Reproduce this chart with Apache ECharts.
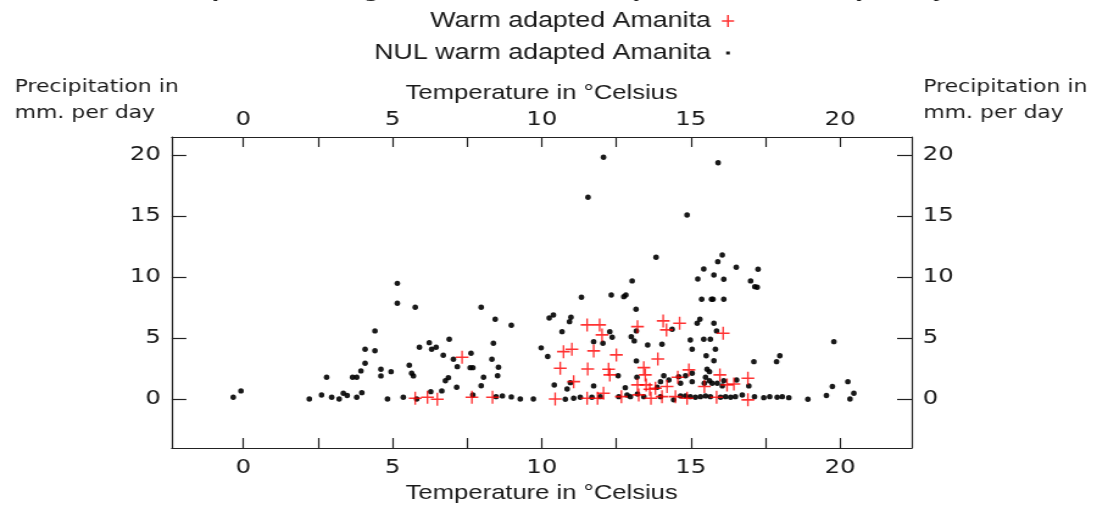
<!DOCTYPE html>
<html>
<head>
<meta charset="utf-8">
<script src="https://cdn.jsdelivr.net/npm/echarts@6/dist/echarts.min.js"></script>
<style>
html,body{margin:0;padding:0;background:#ffffff;overflow:hidden;}
#wrap{width:1097px;height:505px;overflow:hidden;}
#chart{width:900px;height:505px;transform:scaleX(1.218889);transform-origin:0 0;}
</style>
</head>
<body>
<div id="wrap"><div id="chart"></div></div>
<script>
// ---------- data ----------
const titleText = 'Temperature ranges of Amanita in comparison to rainfall per day';
const seriesNames = ['Warm adapted Amanita', 'NUL warm adapted Amanita'];
const xAxisName = 'Temperature in \u00B0Celsius';
const yAxisName = 'Precipitation in\nmm. per day';
const xRange = [-2.4, 22.4];
const yRange = [-4, 21.5];
const xTickValues = [0, 2.5, 5, 7.5, 10, 12.5, 15, 17.5, 20];
const xLabelValues = [0, 5, 10, 15, 20];
const yTickValues = [0, 5, 10, 15, 20];

// Warm adapted Amanita: [temperature, precipitation]
const warmPoints = [
  [7.33,3.44],[5.76,0.08],[6.17,0.16],[6.50,0.00],[7.66,0.16],[8.35,0.16],
  [11.52,6.09],[11.94,6.09],[12.02,5.27],[13.21,5.95],[14.07,6.42],[14.18,5.68],
  [14.62,6.23],[16.08,5.41],[11.01,4.10],[10.73,3.90],[11.74,3.96],[12.50,3.63],
  [13.89,3.30],[11.54,2.48],[12.24,2.46],[12.28,1.99],[13.42,2.59],[13.47,1.99],
  [11.07,1.44],[13.21,1.17],[13.50,1.17],[13.62,0.82],[13.81,0.90],[14.20,1.04],
  [14.56,1.80],[14.93,2.40],[15.97,1.99],[16.21,1.17],[16.44,1.25],[16.91,1.72],
  [15.45,1.04],[13.25,0.35],[13.66,0.08],[14.03,0.21],[14.48,0.21],[14.87,0.08],
  [15.86,0.16],[16.91,-0.05],[11.52,0.08],[11.87,0.08],[12.67,0.21],[12.07,0.49],
  [10.62,2.54],[10.45,0.02]
];

// NUL warm adapted Amanita: [temperature, precipitation]
const nulPoints = [
  [-0.34,0.16],[-0.08,0.68],[2.21,0.02],[2.62,0.35],[2.96,0.16],[3.21,0.02],
  [3.35,0.49],[3.48,0.30],[3.80,0.16],[3.97,0.54],[2.79,1.80],[3.66,1.80],
  [3.80,1.80],[3.94,2.32],[4.08,2.95],[4.08,4.10],[4.41,3.98],[4.41,5.60],
  [4.61,2.46],[4.61,1.91],[4.95,2.26],[5.16,9.50],[5.16,7.87],[5.76,7.54],
  [4.83,0.02],[5.36,0.16],[5.56,2.79],[5.64,2.13],[5.70,1.91],[5.90,4.26],
  [6.23,4.64],[6.31,4.10],[6.46,4.26],[6.70,3.60],[6.90,4.92],[7.04,3.28],
  [7.17,2.67],[7.60,2.59],[7.69,2.59],[7.63,3.77],[6.77,1.52],[6.87,1.77],
  [6.65,0.68],[6.28,0.62],[7.15,0.98],[7.97,1.11],[8.05,1.80],[8.33,3.28],
  [8.38,4.59],[7.97,7.54],[8.44,6.56],[8.52,1.93],[8.55,2.62],[5.81,0.02],
  [7.69,0.35],[8.47,0.21],
  [8.98,6.07],[10.25,6.66],[10.39,6.90],[9.98,4.21],[9.72,0.02],[9.28,0.02],
  [8.98,0.19],[8.68,0.27],[10.42,1.17],[10.20,3.50],
  [12.07,19.84],[11.55,16.56],[15.91,19.39],[14.87,15.10],[13.83,11.64],[16.05,11.83],
  [15.90,11.28],[15.43,10.68],[15.77,10.19],[15.23,9.86],[16.10,9.84],[16.52,10.82],
  [17.25,10.66],[17.00,9.70],[17.14,9.23],[17.22,9.18],[13.03,9.70],[12.33,8.55],
  [12.75,8.41],[12.82,8.55],[11.33,8.36],[13.16,7.38],[15.36,8.20],[15.69,8.20],
  [15.74,8.20],[16.10,8.20],[10.98,6.72],[10.93,6.36],[10.68,5.54],[15.21,6.23],
  [15.30,6.56],[15.77,6.23],[15.86,5.60],[12.28,5.54],[12.36,5.08],[11.74,4.72],
  [12.05,4.59],[13.00,5.13],[13.10,4.78],[13.17,5.60],[14.37,5.74],[13.55,4.45],
  [14.03,4.51],[14.98,4.86],[15.43,4.92],[15.65,4.92],[15.04,4.10],[15.82,4.10],
  [15.51,3.57],[15.77,3.16],[13.17,3.14],[17.11,3.08],[17.87,3.08],[17.98,3.57],
  [19.79,4.72],[12.56,1.93],[11.74,1.09],[10.96,1.36],[10.85,0.84],[12.80,0.95],
  [13.19,1.80],[14.09,1.93],[14.26,1.58],[13.98,1.44],[14.59,1.85],[14.82,1.93],
  [15.04,2.13],[15.54,2.46],[15.62,2.26],[15.49,1.80],[15.71,1.31],[15.88,1.31],
  [15.45,1.31],[14.65,1.31],[16.10,1.52],[16.53,1.58],[16.94,1.09],[19.74,1.04],
  [20.26,1.44],[20.46,0.49],[20.33,0.02],[19.54,0.30],[18.92,0.00],[18.28,0.13],
  [18.06,0.21],[17.89,0.16],[17.64,0.21],[17.44,0.13],[17.13,0.21],[16.72,0.35],
  [16.49,0.21],[16.33,0.16],[16.16,0.21],[15.99,0.16],[15.65,0.21],[15.49,0.27],
  [15.32,0.21],[15.15,0.16],[14.98,0.21],[14.82,0.27],[14.65,0.27],[14.42,-0.05],
  [13.98,0.21],[13.87,0.98],[13.42,0.21],[13.21,0.43],[12.97,0.21],[12.86,0.35],
  [12.58,0.21],[11.96,0.21],[11.68,0.16],[11.29,0.16],[11.07,0.08],[10.79,0.00],
  [15.62,1.52],[15.04,1.44],[16.05,1.09]
];

// ---------- chart ----------
const textColor = '#1a1a1a';
const frameColor = '#222222';
const plusPath = 'path://M0,6L12,6M6,0L6,12';
const plusLegend = 'path://M0,0M18,14M4,7L14,7M9,1L9,13';
const dotLegend = 'path://M0,0M18,14M7.5,5.5L10.5,5.5L10.5,8.5L7.5,8.5Z';

function xAxisCfg(pos) {
  return {
    type: 'value', position: pos, min: xRange[0], max: xRange[1],
    name: xAxisName, nameLocation: 'middle', nameGap: pos === 'top' ? 33 : 34,
    nameTextStyle: {fontFamily: 'Liberation Sans', fontSize: 21, color: textColor},
    axisLine: {show: true, onZero: false, lineStyle: {color: frameColor, width: 1.2}},
    axisTick: {show: true, inside: true, length: 10, customValues: xTickValues,
               lineStyle: {color: frameColor, width: 1.2}},
    axisLabel: {show: true, customValues: xLabelValues, margin: pos === 'top' ? 7 : 10,
                fontFamily: 'DejaVu Sans', fontSize: 20, color: textColor},
    splitLine: {show: false}
  };
}
function yAxisCfg(pos) {
  return {
    type: 'value', position: pos, min: yRange[0], max: yRange[1],
    axisLine: {show: true, onZero: false, lineStyle: {color: frameColor, width: 1.2}},
    axisTick: {show: true, inside: true, length: 12, customValues: yTickValues,
               lineStyle: {color: frameColor, width: 1.2}},
    axisLabel: {show: true, customValues: yTickValues, margin: 9,
                fontFamily: 'DejaVu Sans', fontSize: 20, color: textColor},
    splitLine: {show: false}
  };
}

const chart = echarts.init(document.getElementById('chart'), null, {renderer: 'canvas'});
chart.setOption({
  animation: false,
  backgroundColor: '#ffffff',
  title: {
    text: titleText, left: 134, top: -17, padding: 0,
    textStyle: {fontFamily: 'DejaVu Sans', fontWeight: 'bold', fontSize: 17.5, color: textColor}
  },
  legend: {
    orient: 'vertical', align: 'right', right: 293, top: 8, padding: 0,
    itemWidth: 18, itemHeight: 14, itemGap: 6,
    textStyle: {fontFamily: 'Liberation Sans', fontSize: 22, lineHeight: 26, color: textColor},
    data: [
      {name: seriesNames[0], icon: plusLegend,
       itemStyle: {color: 'rgba(0,0,0,0)', borderColor: '#ff0000', borderWidth: 1.5}},
      {name: seriesNames[1], icon: dotLegend,
       itemStyle: {color: '#000000', borderWidth: 0}}
    ]
  },
  grid: {left: 140.9, right: 152, top: 137, bottom: 57, outerBoundsMode: 'none'},
  xAxis: [xAxisCfg('bottom'), xAxisCfg('top')],
  yAxis: [yAxisCfg('left'), yAxisCfg('right')],
  graphic: [
    {type: 'text', left: 12, top: 74, style: {text: yAxisName, font: '18px "DejaVu Sans"',
      fill: textColor, lineHeight: 26}},
    {type: 'text', left: 757.5, top: 74, style: {text: yAxisName, font: '18px "DejaVu Sans"',
      fill: textColor, lineHeight: 26}}
  ],
  series: [
    {
      name: seriesNames[1], type: 'scatter', xAxisIndex: 0, yAxisIndex: 0,
      data: nulPoints, symbol: 'circle', symbolSize: [4.6, 5.4],
      itemStyle: {color: '#000000', opacity: 0.9}
    },
    {
      name: seriesNames[0], type: 'scatter', xAxisIndex: 0, yAxisIndex: 0,
      data: warmPoints, symbol: plusPath, symbolSize: [10.5, 13],
      itemStyle: {color: 'rgba(0,0,0,0)', borderColor: '#ff0000', borderWidth: 1.5}
    }
  ]
});
</script>
</body>
</html>
